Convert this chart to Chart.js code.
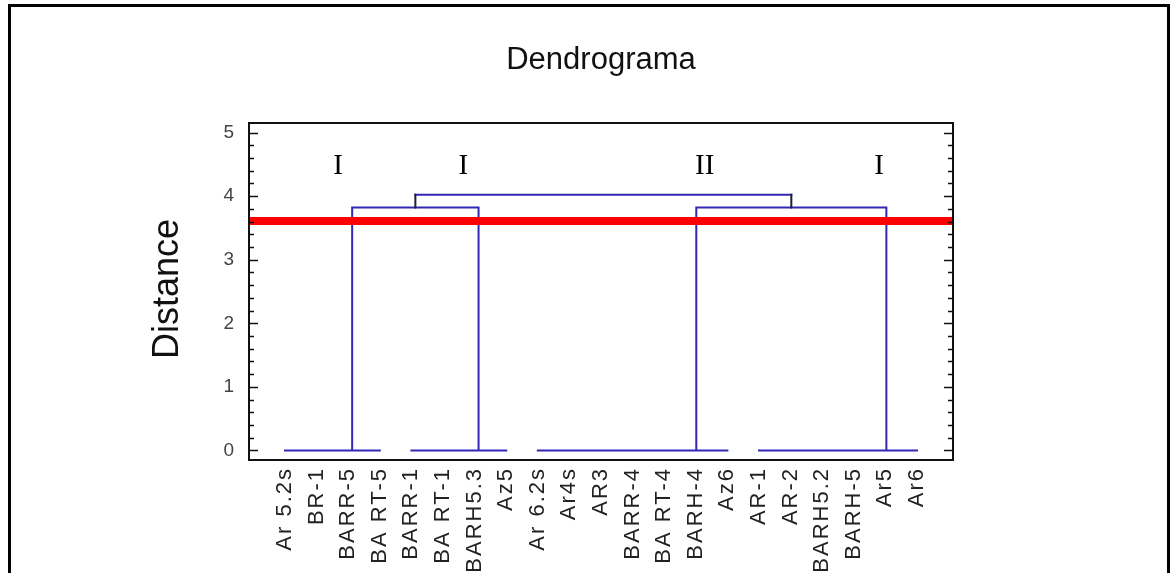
<!DOCTYPE html>
<html>
<head>
<meta charset="utf-8">
<title>Dendrograma</title>
<script src="https://cdn.jsdelivr.net/npm/chart.js@4.4.0/dist/chart.umd.min.js"></script>
<style>
  html, body { margin: 0; padding: 0; background: #fff; }
  #wrap { position: relative; width: 1174px; height: 573px; overflow: hidden; }
  #frame { position: absolute; left: 8px; top: 4px; right: 4px; bottom: -10px; border: 3px solid #000; }
  canvas { position: absolute; left: 0; top: 0; }
</style>
</head>
<body>
<div id="wrap">
  <canvas id="chart" width="1174" height="573"></canvas>
  <div id="frame"></div>
</div>
<script>
// Leaves, in dendrogram order
const leafLabels = ['Ar 5.2s', 'BR-1', 'BARR-5', 'BA RT-5', 'BARR-1', 'BA RT-1', 'BARH5.3', 'Az5',
  'Ar 6.2s', 'Ar4s', 'AR3', 'BARR-4', 'BA RT-4', 'BARH-4', 'Az6',
  'AR-1', 'AR-2', 'BARH5.2', 'BARH-5', 'Ar5', 'Ar6'];

// Linkage: [node a, node b, distance]. Leaves are 0..20, merge k creates node 21 + k
const merges = [
  [0, 1, 0], [21, 2, 0], [22, 3, 0],
  [4, 5, 0], [24, 6, 0], [25, 7, 0],
  [8, 9, 0], [27, 10, 0], [28, 11, 0], [29, 12, 0], [30, 13, 0], [31, 14, 0],
  [15, 16, 0], [33, 17, 0], [34, 18, 0], [35, 19, 0], [36, 20, 0],
  [23, 26, 3.82], [32, 37, 3.82],
  [38, 39, 4.02]
];

const cutDistance = 3.61;
const yTicks = [0, 1, 2, 3, 4, 5];

// Group marks written above the tree (x in leaf units, y in distance)
const groupNames = ['I', 'I', 'II', 'I'];
const groupLeaf = [1.68, 5.64, 13.28, 18.8];
const groupDistance = 4.46;

const X_MIN = -1.14, X_MAX = leafLabels.length - 1 + 1.14;
const Y_MIN = -0.15, Y_MAX = 5.15;

const BLUE = '#3327b5';
const DARK = '#1d1d3a';

// Turn the linkage into line paths (null points break the line)
function buildLinks() {
  const pos = leafLabels.map((_, i) => i);
  const hgt = leafLabels.map(() => 0);
  const links = [];
  const stems = [];
  merges.forEach(([a, b, d], k) => {
    const isRoot = k === merges.length - 1;
    if (isRoot) {
      stems.push({x: pos[a], y: hgt[a]}, {x: pos[a], y: d}, {x: pos[a], y: null});
      stems.push({x: pos[b], y: hgt[b]}, {x: pos[b], y: d}, {x: pos[b], y: null});
      links.push({x: pos[a], y: d}, {x: pos[b], y: d}, {x: pos[b], y: null});
    } else {
      if (hgt[a] !== d) links.push({x: pos[a], y: hgt[a]});
      links.push({x: pos[a], y: d}, {x: pos[b], y: d});
      if (hgt[b] !== d) links.push({x: pos[b], y: hgt[b]});
      links.push({x: pos[b], y: null});
    }
    pos.push((pos[a] + pos[b]) / 2);
    hgt.push(d);
  });
  return {links, stems};
}

const tree = buildLinks();

const decorations = {
  id: 'decorations',
  beforeDraw(chart) {
    const ctx = chart.ctx;
    ctx.save();
    ctx.fillStyle = '#fff';
    ctx.fillRect(0, 0, chart.width, chart.height);
    ctx.restore();
    // wider letter spacing on the leaf names
    const sx = chart.scales.x;
    if (sx && !sx._spaced) {
      const orig = sx.drawLabels;
      sx.drawLabels = function (area) {
        this.ctx.save();
        this.ctx.letterSpacing = '2px';
        orig.call(this, area);
        this.ctx.restore();
      };
      sx._spaced = true;
    }
  },
  afterDatasetsDraw(chart) {
    const ctx = chart.ctx;
    const sx = chart.scales.x, sy = chart.scales.y;
    ctx.save();
    ctx.fillStyle = '#000';
    ctx.font = '29px "Liberation Serif", "Times New Roman", serif';
    ctx.textAlign = 'center';
    ctx.textBaseline = 'middle';
    groupNames.forEach((name, i) => {
      ctx.fillText(name, sx.getPixelForValue(groupLeaf[i]), sy.getPixelForValue(groupDistance));
    });
    ctx.restore();
  },
  afterDraw(chart) {
    const ctx = chart.ctx;
    const a = chart.chartArea;
    const sy = chart.scales.y;
    ctx.save();
    // plot frame
    ctx.strokeStyle = '#111';
    ctx.lineWidth = 2;
    ctx.strokeRect(a.left, a.top, a.right - a.left, a.bottom - a.top);
    // inward tick marks, left and right
    ctx.lineWidth = 1.5;
    for (let v = 0; v <= 25; v++) {
      const val = v / 5;
      const y = Math.round(sy.getPixelForValue(val)) + 0.5;
      const len = v % 5 === 0 ? 9 : 5;
      ctx.beginPath();
      ctx.moveTo(a.left, y); ctx.lineTo(a.left + len, y);
      ctx.moveTo(a.right, y); ctx.lineTo(a.right - len, y);
      ctx.stroke();
    }
    // titles
    ctx.fillStyle = '#111';
    ctx.textAlign = 'center';
    ctx.textBaseline = 'middle';
    ctx.font = '31px "Liberation Sans", Arial, sans-serif';
    ctx.fillText('Dendrograma', 601, 60);
    ctx.translate(168, 289);
    ctx.rotate(-Math.PI / 2);
    ctx.font = '36px "Liberation Sans", Arial, sans-serif';
    ctx.fillText('Distance', 0, 0);
    ctx.restore();
  }
};

new Chart(document.getElementById('chart'), {
  type: 'line',
  data: {
    datasets: [
      {
        label: 'cut',
        data: [{x: X_MIN, y: cutDistance}, {x: X_MAX, y: cutDistance}],
        borderColor: '#ff0000',
        borderWidth: 8,
        borderCapStyle: 'butt',
        clip: 6
      },
      {
        label: 'root',
        data: tree.stems,
        borderColor: DARK,
        borderWidth: 2
      },
      {
        label: 'links',
        data: tree.links,
        borderColor: BLUE,
        borderWidth: 2
      }
    ]
  },
  options: {
    responsive: false,
    animation: false,
    devicePixelRatio: 1,
    spanGaps: false,
    elements: {
      point: { radius: 0, hoverRadius: 0 },
      line: { tension: 0, fill: false, borderJoinStyle: 'miter', borderCapStyle: 'square' }
    },
    layout: { padding: { left: 0, right: 221, top: 123, bottom: 0 } },
    plugins: {
      legend: { display: false },
      title: { display: false },
      tooltip: { enabled: false }
    },
    scales: {
      x: {
        type: 'linear',
        min: X_MIN,
        max: X_MAX,
        afterBuildTicks: (scale) => { scale.ticks = leafLabels.map((_, i) => ({value: i})); },
        afterFit: (scale) => { scale.height = 113; },
        grid: { display: false, drawTicks: false },
        border: { display: false },
        ticks: {
          autoSkip: false,
          maxRotation: 90,
          minRotation: 90,
          padding: 7,
          color: '#222',
          font: { family: '"Liberation Sans", Arial, sans-serif', size: 22 },
          callback: (value, index) => leafLabels[index]
        }
      },
      y: {
        type: 'linear',
        min: Y_MIN,
        max: Y_MAX,
        afterBuildTicks: (scale) => { scale.ticks = yTicks.map(v => ({value: v})); },
        afterFit: (scale) => { scale.width = 249; },
        grid: { display: false, drawTicks: false },
        border: { display: false },
        ticks: {
          padding: 15,
          color: '#444',
          font: { family: '"Liberation Sans", Arial, sans-serif', size: 19 },
          callback: (value) => String(value)
        }
      }
    }
  },
  plugins: [decorations]
});
</script>
</body>
</html>
